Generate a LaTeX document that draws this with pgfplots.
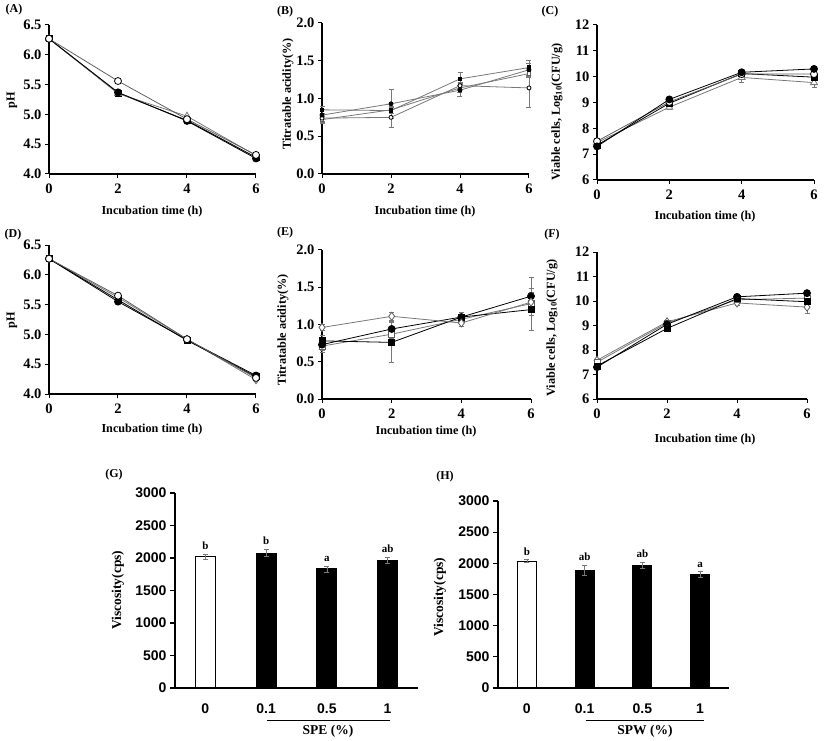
\documentclass[border=0pt]{standalone}
\usepackage{fontspec}
\setmainfont{Liberation Serif}
\setsansfont{Liberation Sans}
\usepackage{pgfplots}
\pgfplotsset{compat=1.18}
\definecolor{lg}{RGB}{120,120,120}
\definecolor{mg}{RGB}{95,95,95}
\newcommand\tlf{\bfseries\fontsize{14.5}{15}\selectfont}
\newcommand\alf{\bfseries\fontsize{12.2}{13}\selectfont}
\newcommand\vlf{\bfseries\fontsize{13.5}{14}\selectfont}
\newcommand\plf{\bfseries\fontsize{12}{12}\selectfont}
\newcommand\lef{\bfseries\fontsize{11}{11}\selectfont}
\pgfplotsset{
  panel/.style={scale only axis, axis lines=left, axis line style={-, line width=1.5pt, black},
    tick align=outside, major tick length=4pt, tick style={black, line width=1pt},
    ticklabel style={font=\tlf}, /pgf/number format/assume math mode=true,
    xticklabel style={yshift=-2pt},
    xmin=0, xmax=6, xtick={0,2,4,6}, clip=false},
  dec/.style={yticklabel style={/pgf/number format/.cd, fixed, fixed zerofill, precision=1}},
  eb/.style={error bars/.cd, y dir=both, y explicit, error bar style={lg, line width=0.6pt},
    error mark options={rotate=90, lg, mark size=2.5pt, line width=0.6pt}},
  fc/.style={black, line width=0.8pt, mark=*, mark size=3.5pt, mark options={fill=black, draw=black}},
  fs/.style={black, line width=0.8pt, mark=square*, mark size=3pt, mark options={fill=black, draw=black}},
  oc/.style={mg, line width=0.8pt, mark=*, mark size=3.5pt, mark options={fill=white, draw=black}},
  ot/.style={lg, line width=0.8pt, mark=triangle*, mark size=4pt, mark options={fill=white, draw=lg}},
  od/.style={lg, line width=0.8pt, mark=diamond*, mark size=4pt, mark options={fill=white, draw=mg}},
  os/.style={lg, line width=0.8pt, mark=square*, mark size=3pt, mark options={fill=white, draw=mg}},
  bars/.style={scale only axis, axis lines=left, axis line style={-, line width=1.5pt, black},
    tick align=outside, major tick length=5pt, tick style={black, line width=1.2pt},
    ticklabel style={font=\sffamily\bfseries\fontsize{14}{14}\selectfont},
    xticklabel style={yshift=-7pt},
    /pgf/number format/assume math mode=true, /pgf/number format/1000 sep={},
    xmin=0, xmax=4, ymin=0, ymax=3000, ytick={0,500,...,3000},
    xtick={0.5,1.5,2.5,3.5}, xticklabels={0,0.1,0.5,1}, x tick style={draw=none},
    extra x ticks={1,2,3,4}, extra x tick labels={}, extra x tick style={tick style={black, line width=1.2pt}},
    clip=false},
}
\begin{document}
\begin{tikzpicture}[x=1pt,y=1pt]
\useasboundingbox (0,0) rectangle (827,740);
% ---------------- (A)
\begin{axis}[panel, dec, at={(49pt,566pt)}, anchor=south west, width=207pt, height=149pt,
  ymin=4, ymax=6.5, ytick={4,4.5,...,6.5}]
\addplot[fs] coordinates {(0,6.27) (2,5.36) (4,4.90) (6,4.28)};
\addplot[ot] coordinates {(0,6.27) (2,5.35) (4,4.97) (6,4.31)};
\addplot[fc] coordinates {(0,6.27) (2,5.37) (4,4.89) (6,4.26)};
\addplot[oc] coordinates {(0,6.27) (2,5.56) (4,4.92) (6,4.32)};
\end{axis}
% ---------------- (B)
\begin{axis}[panel, dec, at={(322pt,566pt)}, anchor=south west, width=207pt, height=151pt,
  ymin=0, ymax=2, ytick={0,0.5,...,2}]
\addplot[os, mark size=1.8pt, eb] coordinates {(0,0.72) +- (0,0.05) (2,0.85) +- (0,0.05) (4,1.14) +- (0,0.06) (6,1.33) +- (0,0.05)};
\addplot[oc, lg, mark size=2pt, eb] coordinates {(0,0.74) +- (0,0.06) (2,0.75) +- (0,0.13) (4,1.17) +- (0,0.05) (6,1.14) +- (0,0.26)};
\addplot[fc, lg, mark size=2pt, eb] coordinates {(0,0.78) +- (0,0.08) (2,0.93) +- (0,0.19) (4,1.11) +- (0,0.08) (6,1.38) +- (0,0.08)};
\addplot[fs, lg, mark size=1.8pt, eb] coordinates {(0,0.85) +- (0,0.05) (2,0.84) +- (0,0.04) (4,1.26) +- (0,0.09) (6,1.41) +- (0,0.10)};
\end{axis}
% ---------------- (C)
\begin{axis}[panel, at={(597pt,560pt)}, anchor=south west, width=217pt, height=155pt,
  ymin=6, ymax=12, ytick={6,...,12}]
\addplot[ot, eb] coordinates {(0,7.45) +- (0,0.05) (2,8.82) +- (0,0.1) (4,9.97) +- (0,0.2) (6,9.77) +- (0,0.2)};
\addplot[fs] coordinates {(0,7.35) (2,8.97) (4,10.12) (6,9.98)};
\addplot[oc] coordinates {(0,7.50) (2,9.02) (4,10.10) (6,10.10)};
\addplot[fc] coordinates {(0,7.30) (2,9.12) (4,10.17) (6,10.30)};
\end{axis}
% ---------------- (D)
\begin{axis}[panel, dec, at={(49pt,346pt)}, anchor=south west, width=207pt, height=149pt,
  ymin=4, ymax=6.5, ytick={4,4.5,...,6.5}]
\addplot[od] coordinates {(0,6.27) (2,5.62) (4,4.92) (6,4.24)};
\addplot[fs] coordinates {(0,6.27) (2,5.58) (4,4.90) (6,4.29)};
\addplot[fc] coordinates {(0,6.27) (2,5.55) (4,4.91) (6,4.31)};
\addplot[oc] coordinates {(0,6.27) (2,5.65) (4,4.92) (6,4.27)};
\end{axis}
% ---------------- (E)
\begin{axis}[panel, dec, at={(322pt,341pt)}, anchor=south west, width=209pt, height=149pt,
  ymin=0, ymax=2, ytick={0,0.5,...,2}]
\addplot[os, eb] coordinates {(0,0.71) +- (0,0.06) (2,0.87) +- (0,0.06) (4,1.07) +- (0,0.05) (6,1.28) +- (0,0.15)};
\addplot[fs, eb] coordinates {(0,0.78) +- (0,0.08) (2,0.76) +- (0,0.27) (4,1.10) +- (0,0.06) (6,1.20) +- (0,0.28)};
\addplot[fc, eb] coordinates {(0,0.73) +- (0,0.10) (2,0.94) +- (0,0.10) (4,1.10) +- (0,0.06) (6,1.38) +- (0,0.25)};
\addplot[od, eb] coordinates {(0,0.96) +- (0,0.04) (2,1.11) +- (0,0.05) (4,1.02) +- (0,0.04) (6,1.30) +- (0,0.05)};
\end{axis}
% ---------------- (F)
\begin{axis}[panel, at={(597pt,341pt)}, anchor=south west, width=210pt, height=147pt,
  ymin=6, ymax=12, ytick={6,...,12}]
\addplot[od, eb] coordinates {(0,7.58) +- (0,0.05) (2,9.15) +- (0,0.05) (4,9.92) +- (0,0.1) (6,9.75) +- (0,0.25)};
\addplot[os] coordinates {(0,7.50) (2,9.10) (4,10.05) (6,10.12)};
\addplot[fs] coordinates {(0,7.35) (2,8.88) (4,10.10) (6,9.97)};
\addplot[fc] coordinates {(0,7.30) (2,9.05) (4,10.17) (6,10.32)};
\end{axis}
% ---------------- (G)
\begin{axis}[bars, at={(175pt,52pt)}, anchor=south west, width=243pt, height=195pt]
\addplot[ybar, bar width=20pt, draw=black, line width=1.2pt, fill=white, eb] coordinates {(0.5,2020) +- (0,35)};
\addplot[ybar, bar width=20pt, draw=black, line width=1.2pt, fill=black, eb] coordinates {(1.5,2075) +- (0,55) (2.5,1830) +- (0,45) (3.5,1965) +- (0,45)};
\node[font=\lef, anchor=south] at (axis cs:0.5,2070) {b};
\node[font=\lef, anchor=south] at (axis cs:1.5,2145) {b};
\node[font=\lef, anchor=south] at (axis cs:2.5,1890) {a};
\node[font=\lef, anchor=south] at (axis cs:3.5,2025) {ab};
\end{axis}
% ---------------- (H)
\begin{axis}[bars, at={(498pt,52pt)}, anchor=south west, width=231pt, height=187pt]
\addplot[ybar, bar width=19pt, draw=black, line width=1.2pt, fill=white, eb] coordinates {(0.5,2035) +- (0,25)};
\addplot[ybar, bar width=19pt, draw=black, line width=1.2pt, fill=black, eb] coordinates {(1.5,1890) +- (0,85) (2.5,1970) +- (0,45) (3.5,1820) +- (0,45)};
\node[font=\lef, anchor=south] at (axis cs:0.5,2075) {b};
\node[font=\lef, anchor=south] at (axis cs:1.5,1990) {ab};
\node[font=\lef, anchor=south] at (axis cs:2.5,2030) {ab};
\node[font=\lef, anchor=south] at (axis cs:3.5,1880) {a};
\end{axis}
% ---------------- labels
\node[font=\plf] at (14pt,730pt) {(A)};
\node[font=\plf] at (285pt,728pt) {(B)};
\node[font=\plf] at (550pt,728pt) {(C)};
\node[font=\plf] at (13pt,505pt) {(D)};
\node[font=\plf] at (285pt,507pt) {(E)};
\node[font=\plf] at (552pt,505pt) {(F)};
\node[font=\plf] at (114pt,265pt) {(G)};
\node[font=\plf] at (445pt,263pt) {(H)};
% x labels
\node[font=\alf] at (152pt,528pt) {Incubation time (h)};
\node[font=\alf] at (425pt,528pt) {Incubation time (h)};
\node[font=\alf] at (705pt,523pt) {Incubation time (h)};
\node[font=\alf] at (152pt,310pt) {Incubation time (h)};
\node[font=\alf] at (426pt,308pt) {Incubation time (h)};
\node[font=\alf] at (705pt,300pt) {Incubation time (h)};
% y labels
\node[font=\alf, rotate=90] at (12pt,640pt) {pH};
\node[font=\alf, rotate=90] at (288pt,646pt) {Titratable acidity(\%)};
\node[font=\alf, rotate=90] at (557pt,628pt) {Viable cells, Log\textsubscript{10}(CFU/g)};
\node[font=\alf, rotate=90] at (12pt,420pt) {pH};
\node[font=\alf, rotate=90] at (283pt,410pt) {Titratable acidity(\%)};
\node[font=\alf, rotate=90] at (552pt,412pt) {Viable cells, Log\textsubscript{10}(CFU/g)};
\node[font=\vlf, rotate=90] at (118pt,150pt) {Viscosity(cps)};
\node[font=\vlf, rotate=90] at (440pt,143pt) {Viscosity(cps)};
% group lines
\draw[line width=0.8pt] (267pt,20pt) -- (390pt,20pt);
\node[font=\vlf] at (328pt,9pt) {SPE (\%)};
\draw[line width=0.8pt] (586pt,20pt) -- (704pt,20pt);
\node[font=\vlf] at (645pt,9pt) {SPW (\%)};
\end{tikzpicture}
\end{document}
